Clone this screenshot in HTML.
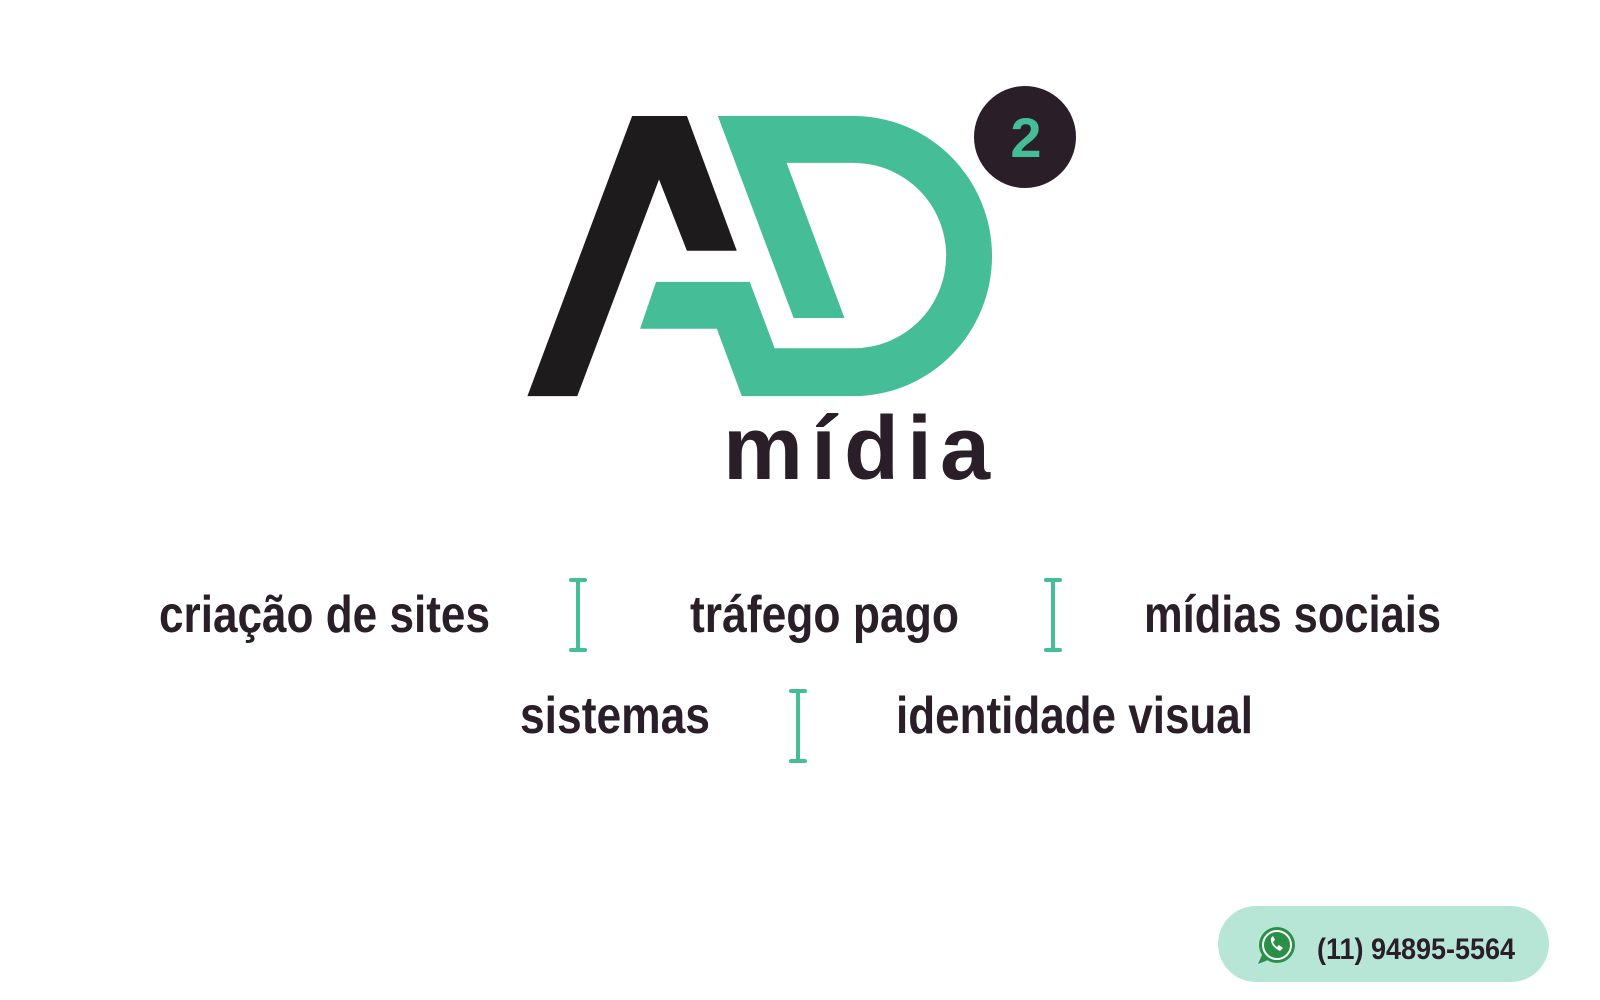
<!DOCTYPE html>
<html><head><meta charset="utf-8"><style>
html,body{margin:0;padding:0;background:#fff;}
svg{display:block;}
</style></head><body>
<svg width="1600" height="1000" viewBox="0 0 1600 1000" xmlns="http://www.w3.org/2000/svg">
<rect width="1600" height="1000" fill="#fff"/>
<g transform="translate(0,116) scale(0.997,0.976) translate(0,-116)">
<polygon points="634,116 689,116 739,254 689,254 661,181 579,403 529,403" fill="#1d1b1c"/>
<path fill="#45bd96" fill-rule="evenodd" d="M658,286 L752,286 L777,354 L856,354 A93,95 0 0 0 856,164 L789,164 L847,323 L796,323 L720,116 L856,116 A139,143.5 0 0 1 856,403 L744,403 L719,334 L642,334 Z"/>
</g>
<circle cx="1025" cy="137" r="51" fill="#2a1f28"/>
<text x="1026" y="157" text-anchor="middle" font-family="Liberation Sans, sans-serif" font-weight="bold" font-size="56" fill="#45bd96">2</text>
<text x="723" y="479" font-family="Liberation Sans, sans-serif" font-weight="bold" font-size="90" fill="#2a1f28" textLength="267" lengthAdjust="spacing">mídia</text>
<g font-family="Liberation Sans, sans-serif" font-weight="bold" font-size="52" fill="#2a1f28">
<text x="159" y="632" textLength="331" lengthAdjust="spacingAndGlyphs">criação de sites</text>
<text x="690" y="632" textLength="269" lengthAdjust="spacingAndGlyphs">tráfego pago</text>
<text x="1144" y="632" textLength="297" lengthAdjust="spacingAndGlyphs">mídias sociais</text>
<text x="520" y="733" textLength="190" lengthAdjust="spacingAndGlyphs">sistemas</text>
<text x="896" y="733" textLength="357" lengthAdjust="spacingAndGlyphs">identidade visual</text>
</g>
<g stroke="#45bd96" stroke-width="4" stroke-linecap="round">
<line x1="578" y1="580" x2="578" y2="650"/><line x1="571" y1="580" x2="585" y2="580"/><line x1="571" y1="650" x2="585" y2="650"/>
<line x1="1053" y1="580" x2="1053" y2="650"/><line x1="1046" y1="580" x2="1060" y2="580"/><line x1="1046" y1="650" x2="1060" y2="650"/>
<line x1="798" y1="691" x2="798" y2="761"/><line x1="791" y1="691" x2="805" y2="691"/><line x1="791" y1="761" x2="805" y2="761"/>
</g>
<rect x="1218" y="906" width="331" height="76" rx="38" fill="#b7e6d6"/>
<circle cx="1277" cy="945" r="18" fill="#2a8f47"/>
<polygon points="1262,955 1258,964 1268,960" fill="#2a8f47"/>
<circle cx="1277" cy="945" r="14" fill="none" stroke="#fff" stroke-width="2"/>
<path d="M1271,938 q-1,8 9,13 l3,-3 -4,-3 -2,2 q-3,-2 -4,-5 l2,-2 -2,-4 z" fill="#fff"/>
<text x="1317" y="959" font-family="Liberation Sans, sans-serif" font-weight="bold" font-size="30" fill="#2a1f28" textLength="198" lengthAdjust="spacingAndGlyphs">(11) 94895-5564</text>
</svg>
</body></html>
